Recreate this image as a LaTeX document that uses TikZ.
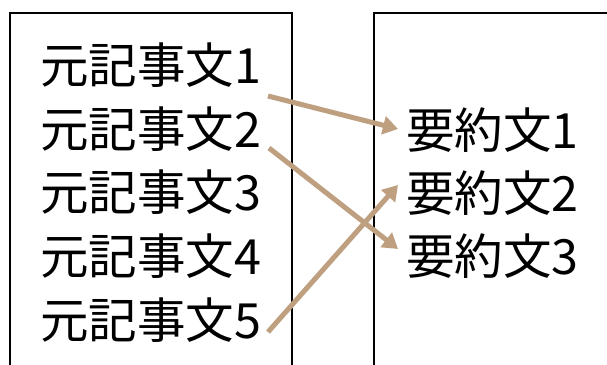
\documentclass[tikz,border=0pt]{standalone}
\usepackage{fontspec}
\newfontfamily\jp{Noto Sans CJK JP}
\usetikzlibrary{arrows.meta}
\definecolor{tanline}{RGB}{190,160,128}
\tikzset{
  frame/.style={draw=black, line width=1.6pt},
  txt/.style={anchor=west, inner sep=0pt, font=\jp\fontsize{48.5}{50}\selectfont},
  link/.style={draw=tanline, line width=5pt, -{Triangle[length=15pt,width=18pt]}, shorten >=0pt}
}
\begin{document}
\begin{tikzpicture}[x=1pt,y=-1pt]
\useasboundingbox (0,0) rectangle (607,364);
\clip (0,0) rectangle (607,364);
\fill[white] (0,0) rectangle (607,364);
\draw[frame] (292,380) -- (292,13) -- (10,13) -- (10,380);
\draw[frame] (374,380) -- (374,13) -- (620,13);
\node[txt] (l1) at (40,65.5) {元記事文1};
\node[txt] (l2) at (40,129) {元記事文2};
\node[txt] (l3) at (40,192.5) {元記事文3};
\node[txt] (l4) at (40,256) {元記事文4};
\node[txt] (l5) at (40,320) {元記事文5};
\node[txt] (r1) at (406,130) {要約文1};
\node[txt] (r2) at (406,193) {要約文2};
\node[txt] (r3) at (406,256) {要約文3};
\coordinate (s1) at (268,96);
\coordinate (s2) at (269,148);
\coordinate (s5) at (268,332);
\coordinate (t1) at (398,129);
\coordinate (t2) at (398,185);
\coordinate (t3) at (398,249);
\draw[link] (s1) -- (t1);
\draw[link] (s2) -- (t3);
\draw[link] (s5) -- (t2);
\end{tikzpicture}
\end{document}
